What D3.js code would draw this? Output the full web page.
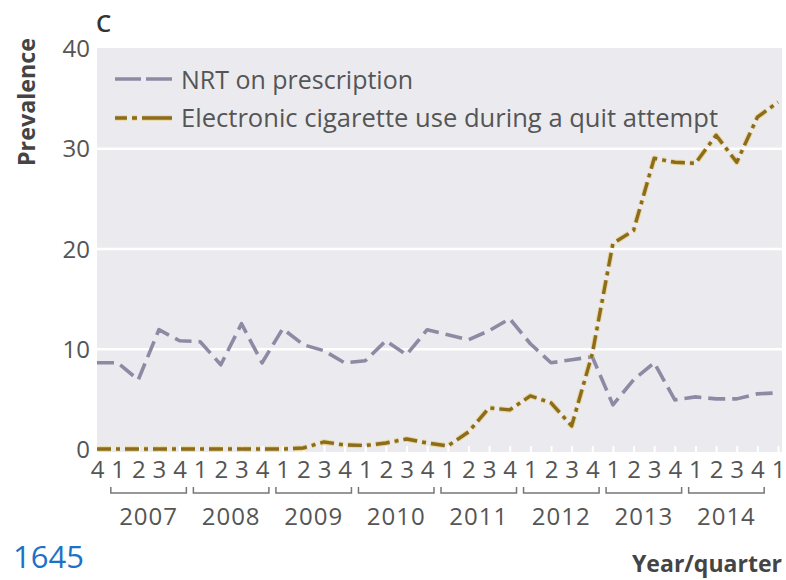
<!DOCTYPE html>
<html>
<head>
<meta charset="utf-8">
<script src="https://cdn.jsdelivr.net/npm/d3@7/dist/d3.min.js"></script>
<style>
  html, body { margin: 0; padding: 0; background: #fff; }
  svg { display: block; }
  text { font-family: "Open Sans", "Noto Sans", sans-serif; }
</style>
</head>
<body>
<svg id="chart" width="786" height="580"></svg>
<script>
// Quarterly prevalence (%), 2006 Q4 to 2015 Q1
const quarterLabels = ["4",
  "1","2","3","4", "1","2","3","4", "1","2","3","4", "1","2","3","4",
  "1","2","3","4", "1","2","3","4", "1","2","3","4", "1","2","3","4",
  "1"];
const yearLabels = ["2007","2008","2009","2010","2011","2012","2013","2014"];
const nrtPrescription = [8.6, 8.6, 6.9, 11.9, 10.8, 10.7, 8.4, 12.5, 8.6, 12.0,
  10.4, 9.8, 8.6, 8.8, 10.8, 9.4, 11.9, 11.4, 10.9, 11.8,
  13.0, 10.5, 8.6, 8.9, 9.2, 4.4, 6.9, 8.6, 4.9, 5.2,
  5.0, 5.0, 5.5, 5.6];
const ecigQuitAttempt = [0, 0, 0, 0, 0, 0, 0, 0, 0, 0,
  0.1, 0.7, 0.4, 0.35, 0.6, 1.0, 0.6, 0.3, 1.7, 4.1,
  3.9, 5.3, 4.6, 2.3, 9.5, 20.5, 21.8, 29.0, 28.6, 28.5,
  31.3, 28.6, 33.1, 34.6];
const yTicks = [0, 10, 20, 30, 40];
const seriesNames = ["NRT on prescription", "Electronic cigarette use during a quit attempt"];

const svg = d3.select("#chart");
const plot = { left: 97, right: 782, top: 48, bottom: 452 };

const x = d3.scalePoint()
  .domain(d3.range(quarterLabels.length))
  .range([97, 778]);
const y = d3.scaleLinear().domain([0, 40]).range([449, 48]);

// panel background
svg.append("rect")
  .attr("x", plot.left).attr("y", plot.top)
  .attr("width", plot.right - plot.left).attr("height", plot.bottom - plot.top)
  .attr("fill", "#ebebef");

// white gridlines
const grid = svg.append("g")
  .attr("transform", `translate(${plot.left},0)`)
  .call(d3.axisLeft(y).tickValues([10, 20, 30]).tickSize(-(plot.right - plot.left)).tickFormat(""));
grid.select(".domain").remove();
grid.selectAll("line").attr("stroke", "#fff").attr("stroke-width", 2.5);

// y tick labels
const yAxis = svg.append("g")
  .attr("transform", `translate(${plot.left},0)`)
  .call(d3.axisLeft(y).tickValues(yTicks).tickSize(0).tickPadding(7));
yAxis.select(".domain").remove();
yAxis.selectAll("text")
  .attr("font-size", 24).attr("fill", "#555").attr("dy", "0.36em")
  .style("font-family", "'Open Sans', sans-serif");

// quarter axis: small white inward ticks and digit labels
const xAxis = svg.append("g")
  .attr("transform", `translate(0,${plot.bottom})`)
  .call(d3.axisBottom(x).tickSize(-6).tickFormat(i => quarterLabels[i]));
xAxis.select(".domain").remove();
xAxis.selectAll("line").attr("stroke", "#fff").attr("stroke-width", 2);
xAxis.selectAll("text")
  .attr("y", 26).attr("dy", 0)
  .attr("font-size", 24).attr("fill", "#555")
  .style("font-family", "'Open Sans', sans-serif");

// year brackets under Q1..Q4 of each year
const step = x.step();
const yearGroup = svg.append("g");
yearLabels.forEach((yr, k) => {
  const q1 = 1 + k * 4, q4 = q1 + 3;
  const x0 = x(q1) - step * 0.33, x1 = x(q4) + step * 0.33;
  yearGroup.append("path")
    .attr("d", `M${x0},487V493H${x1}V487`)
    .attr("fill", "none").attr("stroke", "#777").attr("stroke-width", 1.5);
  yearGroup.append("text")
    .attr("x", (x(q1) + x(q4)) / 2).attr("y", 525)
    .attr("text-anchor", "middle")
    .attr("font-size", 24).attr("fill", "#555")
    .attr("letter-spacing", 1)
    .text(yr);
});

// series lines
const line = d3.line().x((d, i) => x(i)).y(d => y(d));

svg.append("path").datum(nrtPrescription)
  .attr("d", line).attr("fill", "none")
  .attr("stroke", "#8d8aa4").attr("stroke-width", 3.6)
  .attr("stroke-dasharray", "17,7").attr("stroke-linejoin", "round");

svg.append("path").datum(ecigQuitAttempt)
  .attr("d", line).attr("fill", "none")
  .attr("stroke", "#e3c458").attr("stroke-width", 5.5).attr("stroke-opacity", 0.55)
  .attr("stroke-dasharray", "14,5,4,5").attr("stroke-linejoin", "round");
svg.append("path").datum(ecigQuitAttempt)
  .attr("d", line).attr("fill", "none")
  .attr("stroke", "#8c6c1c").attr("stroke-width", 3.4)
  .attr("stroke-dasharray", "14,5,4,5").attr("stroke-linejoin", "round");

// legend
const legend = svg.append("g");
legend.append("line").attr("x1", 115).attr("x2", 172).attr("y1", 79).attr("y2", 79)
  .attr("stroke", "#8d8aa4").attr("stroke-width", 3.6).attr("stroke-dasharray", "26,5");
legend.append("line").attr("x1", 115).attr("x2", 172).attr("y1", 118).attr("y2", 118)
  .attr("stroke", "#e3c458").attr("stroke-width", 5.5).attr("stroke-opacity", 0.55)
  .attr("stroke-dasharray", "12,5,5,5,30");
legend.append("line").attr("x1", 115).attr("x2", 172).attr("y1", 118).attr("y2", 118)
  .attr("stroke", "#8c6c1c").attr("stroke-width", 3.4).attr("stroke-dasharray", "12,5,5,5,30");
legend.append("text").attr("x", 181).attr("y", 89)
  .attr("font-size", 25).attr("fill", "#555")
  .attr("textLength", 232).attr("lengthAdjust", "spacingAndGlyphs")
  .text(seriesNames[0]);
legend.append("text").attr("x", 181).attr("y", 127)
  .attr("font-size", 25).attr("fill", "#555")
  .attr("textLength", 537).attr("lengthAdjust", "spacingAndGlyphs")
  .text(seriesNames[1]);

// panel letter and axis titles
svg.append("text").attr("x", 96).attr("y", 32)
  .attr("font-size", 24).attr("font-weight", 600).attr("fill", "#333")
  .text("C");
svg.append("text")
  .attr("transform", "translate(35,102) rotate(-90)")
  .attr("text-anchor", "middle")
  .attr("font-size", 23).attr("font-weight", 700).attr("fill", "#444")
  .attr("textLength", 128).attr("lengthAdjust", "spacingAndGlyphs")
  .text("Prevalence");
svg.append("text").attr("x", 632).attr("y", 572)
  .attr("font-size", 23).attr("font-weight", 700).attr("fill", "#444")
  .attr("textLength", 150).attr("lengthAdjust", "spacingAndGlyphs")
  .text("Year/quarter");

// reference number at the lower left
svg.append("text").attr("x", 84).attr("y", 568)
  .attr("text-anchor", "end")
  .attr("font-size", 31).attr("fill", "#1b72c6")
  .text("1645");
</script>
</body>
</html>
